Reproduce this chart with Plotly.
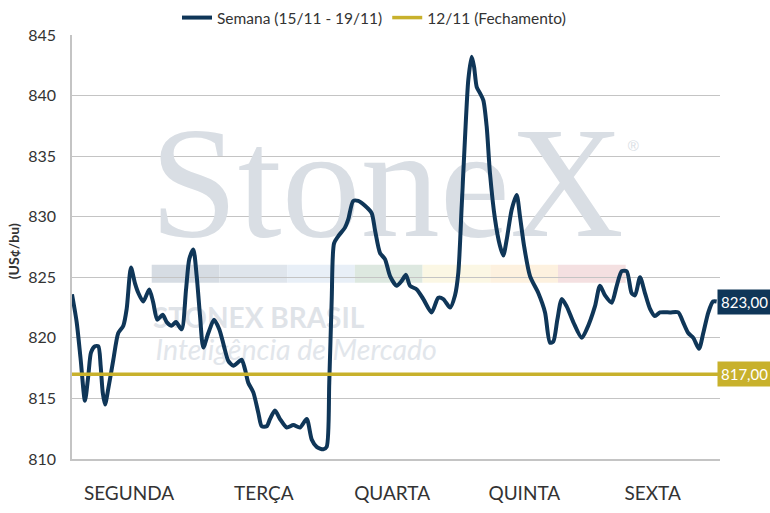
import plotly.graph_objects as go

# ---- data ----
# time position in trading days (0 = Monday open, 5 = Friday close)
t_days = [0.000, 0.036, 0.067, 0.100, 0.126, 0.147, 0.177, 0.203, 0.221, 0.237,
          0.255, 0.280, 0.319, 0.357, 0.396, 0.422, 0.455, 0.486, 0.512, 0.550,
          0.596, 0.627, 0.658, 0.700, 0.731, 0.769, 0.802, 0.846, 0.880, 0.905,
          0.936, 0.962, 0.988, 1.013, 1.052, 1.096, 1.137, 1.173, 1.206, 1.245,
          1.283, 1.309, 1.335, 1.360, 1.399, 1.438, 1.464, 1.502, 1.528, 1.566,
          1.605, 1.657, 1.708, 1.759, 1.811, 1.850, 1.888, 1.939, 1.965, 1.985,
          2.004, 2.022, 2.055, 2.106, 2.132, 2.170, 2.209, 2.261, 2.312, 2.338,
          2.377, 2.415, 2.454, 2.505, 2.544, 2.577, 2.608, 2.660, 2.711, 2.775,
          2.826, 2.865, 2.917, 2.955, 2.981, 3.007, 3.032, 3.058, 3.084, 3.102,
          3.123, 3.148, 3.174, 3.200, 3.225, 3.264, 3.302, 3.328, 3.354, 3.393,
          3.431, 3.457, 3.488, 3.534, 3.598, 3.650, 3.688, 3.714, 3.745, 3.779,
          3.817, 3.868, 3.933, 3.971, 4.035, 4.074, 4.113, 4.164, 4.203, 4.242,
          4.280, 4.318, 4.344, 4.383, 4.421, 4.460, 4.498, 4.537, 4.614, 4.678,
          4.715, 4.755, 4.794, 4.838, 4.871, 4.910, 4.946, 4.974]
semana = [823.6, 821.3, 818.2, 814.8, 816.9, 818.8, 819.3, 819.3, 817.7, 815.5,
          814.5, 815.8, 818.2, 820.4, 821.0, 822.4, 825.8, 824.5, 823.7, 823.0,
          824.0, 822.9, 821.5, 821.9, 821.3, 821.0, 821.3, 820.7, 824.0, 826.5,
          827.3, 825.1, 821.8, 819.2, 820.4, 821.5, 820.7, 819.3, 818.1, 817.7,
          818.0, 818.2, 817.4, 816.3, 815.5, 813.8, 812.7, 812.7, 813.3, 814.0,
          813.3, 812.6, 812.8, 812.6, 813.3, 811.6, 811.0, 810.8, 811.0, 816.3,
          823.2, 827.8, 828.4, 829.1, 829.8, 831.3, 831.3, 830.9, 830.3, 828.9,
          827.0, 826.5, 825.1, 824.3, 824.7, 825.2, 824.3, 824.0, 823.2, 822.1,
          823.3, 823.2, 822.5, 823.5, 825.4, 830.9, 836.4, 841.3, 843.2, 842.4,
          840.7, 840.2, 839.6, 837.4, 833.6, 829.8, 827.6, 826.8, 828.1, 830.6,
          831.8, 830.0, 827.6, 825.1, 823.7, 822.1, 819.6, 819.7, 821.5, 823.2,
          822.6, 821.3, 820.0, 820.7, 822.6, 824.3, 823.5, 822.9, 824.3, 825.5,
          825.5, 823.7, 823.5, 825.0, 823.7, 822.4, 821.8, 822.1, 822.1, 822.1,
          821.3, 820.4, 820.0, 819.1, 820.4, 822.1, 823.0, 823.0]
fechamento = 817.0
days = ["SEGUNDA", "TERÇA", "QUARTA", "QUINTA", "SEXTA"]
y_ticks = [810, 815, 820, 825, 830, 835, 840, 845]
series_names = ["Semana (15/11 - 19/11)", "12/11 (Fechamento)"]

NAVY = "#0f3658"
GOLD = "#c8b12c"
FONT = "Lato"

fig = go.Figure()

# ---- watermark (drawn first, under the data) ----
wm_color = "#d9dee4"
fig.add_trace(go.Scatter(x=[2.43], y=[831.7], mode="text", text=["StoneX"],
                         textfont=dict(family="Liberation Serif", size=158, color=wm_color),
                         hoverinfo="skip", showlegend=False, cliponaxis=False))
fig.add_trace(go.Scatter(x=[4.33], y=[835.7], mode="text", text=["®"],
                         textfont=dict(family="Liberation Sans", size=15, color=wm_color),
                         hoverinfo="skip", showlegend=False, cliponaxis=False))
fig.add_trace(go.Scatter(x=[1.44], y=[821.4], mode="text", text=["STONEX BRASIL"],
                         textfont=dict(family=FONT, size=28, color="#dfe3e8", weight="bold"),
                         hoverinfo="skip", showlegend=False, cliponaxis=False))
fig.add_trace(go.Scatter(x=[1.73], y=[818.8], mode="text", text=["Inteligência de Mercado"],
                         textfont=dict(family=FONT, size=28.5, color="#e2e6eb", style="italic"),
                         hoverinfo="skip", showlegend=False, cliponaxis=False))

# ---- data traces ----
fig.add_trace(go.Scatter(x=t_days, y=semana, mode="lines", name=series_names[0],
                         line=dict(color=NAVY, width=4, shape="spline", smoothing=0.7)))
fig.add_trace(go.Scatter(x=[0, 5], y=[fechamento, fechamento], mode="lines",
                         name=series_names[1], line=dict(color=GOLD, width=3.5)))

# ---- watermark colour band ----
band_colors = ["#d6dce3", "#dfe5ec", "#e8eff7", "#dde8e0", "#fbf7e4", "#fdf1df", "#f4e0e1"]
x0 = (151.7 - 72) / 648
seg = (625.7 - 151.7) / 648 / 7
for i, c in enumerate(band_colors):
    fig.add_shape(type="rect", xref="paper", yref="paper",
                  x0=x0 + i * seg, x1=x0 + (i + 1) * seg,
                  y0=(459.3 - 283) / 424, y1=(459.3 - 265) / 424,
                  fillcolor=c, line_width=0, layer="below")

# ---- end labels ----
fig.add_annotation(x=1.0, xref="paper", y=semana[-1], yref="y", xanchor="left",
                   xshift=-3, text=f"{semana[-1]:.2f}".replace(".", ","),
                   showarrow=False, bgcolor=NAVY, borderpad=3,
                   font=dict(family=FONT, size=15, color="white"))
fig.add_annotation(x=1.0, xref="paper", y=fechamento, yref="y", xanchor="left",
                   xshift=-3, text=f"{fechamento:.2f}".replace(".", ","),
                   showarrow=False, bgcolor=GOLD, borderpad=3,
                   font=dict(family=FONT, size=15, color="white"))

# y-axis title
fig.add_annotation(x=(13 - 72) / 648, xref="paper", y=0.49, yref="paper",
                   text="<b>(US¢/bu)</b>", textangle=-90, showarrow=False,
                   xanchor="center", yanchor="middle",
                   font=dict(family=FONT, size=14, color="#333333"))

fig.update_layout(
    width=770, height=513,
    margin=dict(l=72, r=50, t=35, b=54, autoexpand=False),
    paper_bgcolor="white", plot_bgcolor="white",
    font=dict(family=FONT, color="#333333"),
    legend=dict(orientation="h", x=(374 - 72) / 648, xanchor="center",
                y=1 + 17 / 424, yanchor="middle",
                font=dict(family=FONT, size=15.5, color="#333333"),
                itemwidth=30, traceorder="normal"),
    showlegend=True,
    xaxis=dict(range=[0, 5], tickmode="array",
               tickvals=[0.44, 1.48, 2.47, 3.49, 4.48], ticktext=days,
               showgrid=False, zeroline=False, showline=True, linecolor="#c4c4c4",
               linewidth=1.5, ticks="", ticklabelstandoff=16,
               tickfont=dict(family=FONT, size=19, color="#333333")),
    yaxis=dict(range=[810, 845], tickmode="array", tickvals=y_ticks,
               showgrid=True, gridcolor="#c4c4c4", gridwidth=1.2, zeroline=False,
               showline=True, linecolor="#c4c4c4", linewidth=1.5, ticks="",
               ticklabelstandoff=11,
               tickfont=dict(family=FONT, size=16, color="#333333")),
)

fig.write_html("out.html", config={"displayModeBar": False},
               post_script="document.body.style.margin='0px';")
